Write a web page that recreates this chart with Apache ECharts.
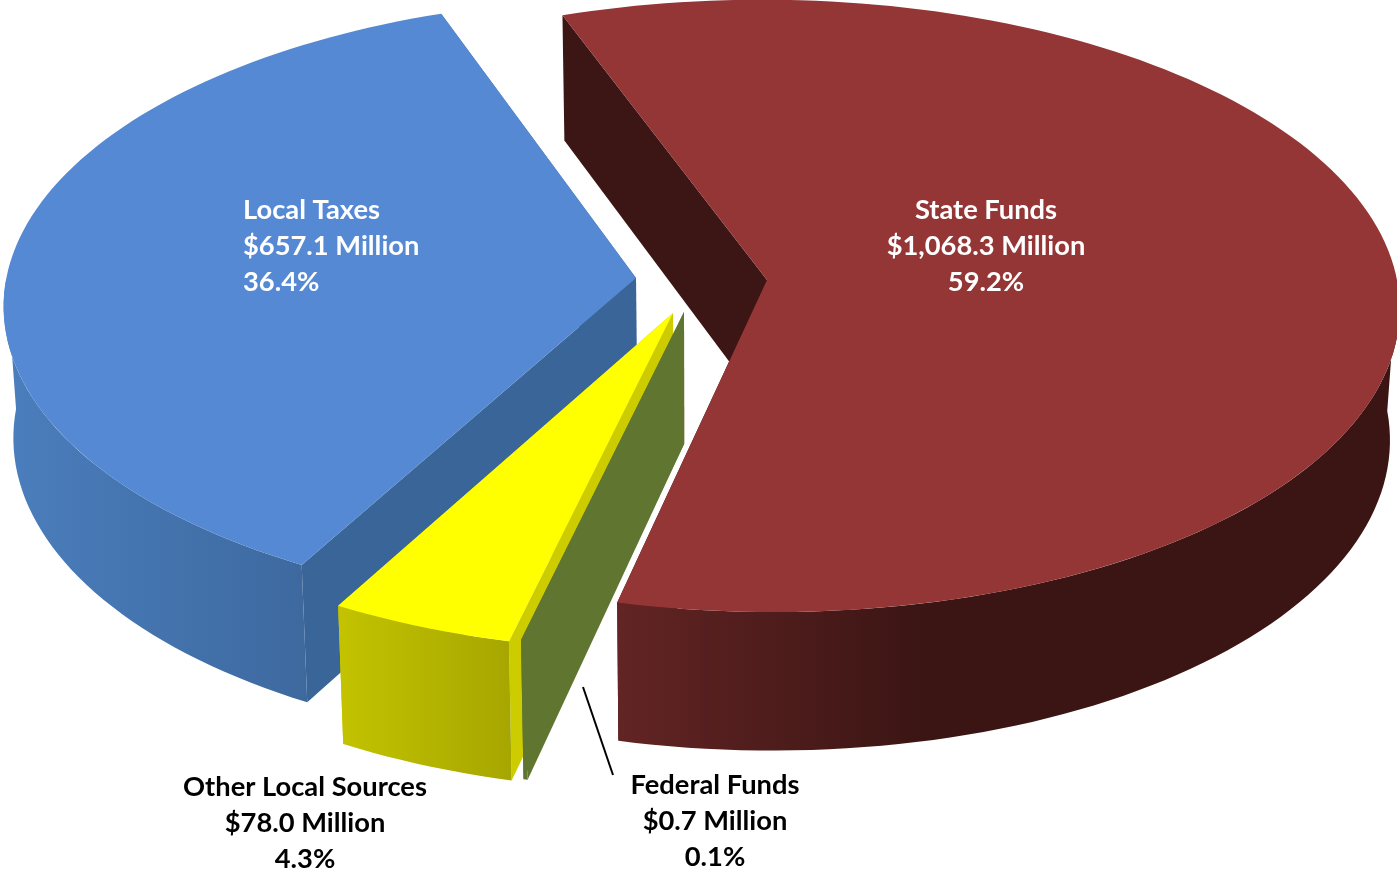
<!DOCTYPE html>
<html>
<head>
<meta charset="utf-8">
<title>Revenue by Source</title>
<script src="https://cdn.jsdelivr.net/npm/echarts@6/dist/echarts.min.js"></script>
<style>
  html, body { margin: 0; padding: 0; background: #fff; }
  #chart { width: 1397px; height: 871px; }
</style>
</head>
<body>
<div id="chart"></div>
<script>
// Revenue sources, in the clockwise order the slices are laid out
const sources = ['State Funds', 'Federal Funds', 'Other Local Sources', 'Local Taxes'];
const amounts = ['$1,068.3 Million', '$0.7 Million', '$78.0 Million', '$657.1 Million'];
const shares = [59.2, 0.1, 4.3, 36.4];

// Camera: vanishing axis, disc radii and foreshortening of the tilted disc
const startAngle = -20;             // degrees clockwise from straight up
const CX = 700, CY = 280;
const RX = 630, RY = 304, PERSP = 0.0845;
// The base plane sits lower and slightly smaller than the top plane
const BASE_SCALE_X = 0.986, BASE_DROP = 124.7, BASE_SCALE_Y = 1.0225;

// Where each exploded slice's tip lands, plus its colours
const sliceStyle = {
  'State Funds': {
    tip: [767, 280], top: '#943636', side: '#3b1614',
    wall: [[618, '#622424'], [930, '#3a1513']]
  },
  'Federal Funds': {
    tip: [684, 312], top: '#5f7530', side: '#5f7530',
    wall: [[520, '#5f7530'], [530, '#5f7530']]
  },
  'Other Local Sources': {
    tip: [673, 313], top: '#ffff00', side: '#cccc00',
    wall: [[338, '#c3c300'], [512, '#a6a600']]
  },
  'Local Taxes': {
    tip: [636, 278], top: '#5589d3', side: '#3a6598',
    wall: [[5, '#4b7ebd'], [305, '#3d699f']]
  }
};

// Caption placement for each slice
const captionStyle = {
  'State Funds': { x: 986, y: 192, fill: '#fff', align: 'center' },
  'Federal Funds': { x: 715, y: 767, fill: '#000', align: 'center' },
  'Other Local Sources': { x: 305, y: 769, fill: '#000', align: 'center' },
  'Local Taxes': { x: 243, y: 192, fill: '#fff', align: 'left' }
};

// Screen point of a disc-plane position (in radii, y pointing at the viewer)
function toScreen(X, Y) {
  const s = 1 / (1 - PERSP * Y);
  return [CX + X * RX * s, CY + Y * RY * s];
}

// Disc-plane position of a screen point
function fromScreen(p) {
  const d = p[1] - CY;
  const Y = d / (RY + PERSP * d);
  return [(p[0] - CX) * (1 - PERSP * Y) / RX, Y];
}

function toBase(p) {
  return [CX + (p[0] - CX) * BASE_SCALE_X, p[1] * BASE_SCALE_Y + BASE_DROP];
}

function rimPoint(deg, origin) {
  const t = deg * Math.PI / 180;
  return toScreen(origin[0] + Math.sin(t), origin[1] - Math.cos(t));
}

function arc(from, to, origin) {
  const n = Math.max(2, Math.ceil(Math.abs(to - from) / 1.5));
  const pts = [];
  for (let i = 0; i <= n; i++) pts.push(rimPoint(from + (to - from) * i / n, origin));
  return pts;
}

function sliceShapes(name, from, to) {
  const st = sliceStyle[name];
  const tip = st.tip;
  const origin = fromScreen(tip);
  const out = [];
  const poly = (points, fill) => out.push({ type: 'polygon', silent: true, shape: { points }, style: { fill } });

  // The two cut faces running in to the tip
  [from, to].forEach(deg => {
    const rim = rimPoint(deg, origin);
    poly([tip, rim, toBase(rim), toBase(tip)], st.side);
  });
  // Curved wall: only the part of the rim facing the viewer
  const a = Math.max(from, 90), b = Math.min(to, 270);
  if (b > a) {
    const upper = arc(a, b, origin);
    const lower = upper.map(toBase).reverse();
    poly(upper.concat(lower), {
      type: 'linear', global: true, x: st.wall[0][0], y: 0, x2: st.wall[1][0], y2: 0,
      colorStops: [{ offset: 0, color: st.wall[0][1] }, { offset: 1, color: st.wall[1][1] }]
    });
  }
  // Top face
  poly([tip].concat(arc(from, to, origin)), st.top);
  return out;
}

// Painter's order: the wedge pieces are stacked back to front
const paintOrder = ['State Funds', 'Local Taxes', 'Other Local Sources', 'Federal Funds'];

const ranges = {};
let cursor = startAngle;
sources.forEach((name, i) => {
  const sweep = shares[i] * 3.6;
  ranges[name] = [cursor, cursor + sweep];
  cursor += sweep;
});

function renderPie() {
  const children = [];
  paintOrder.forEach(name => {
    const r = ranges[name];
    children.push.apply(children, sliceShapes(name, r[0], r[1]));
  });
  sources.forEach((name, i) => {
    const c = captionStyle[name];
    children.push({
      type: 'text', silent: true,
      style: {
        x: c.x, y: c.y, text: name + '\n' + amounts[i] + '\n' + shares[i].toFixed(1) + '%',
        fill: c.fill, align: c.align, verticalAlign: 'top',
        font: 'bold 27.3px Lato', lineHeight: 36
      }
    });
  });
  // Leader from the federal caption to its sliver
  children.push({
    type: 'line', silent: true,
    shape: { x1: 583, y1: 687, x2: 613, y2: 775 },
    style: { stroke: '#000', lineWidth: 2 }
  });
  return { type: 'group', children };
}

const chart = echarts.init(document.getElementById('chart'));
chart.setOption({
  animation: false,
  backgroundColor: '#fff',
  series: [{
    type: 'custom',
    coordinateSystem: 'none',
    data: [shares],
    renderItem: renderPie
  }]
});
</script>
</body>
</html>
